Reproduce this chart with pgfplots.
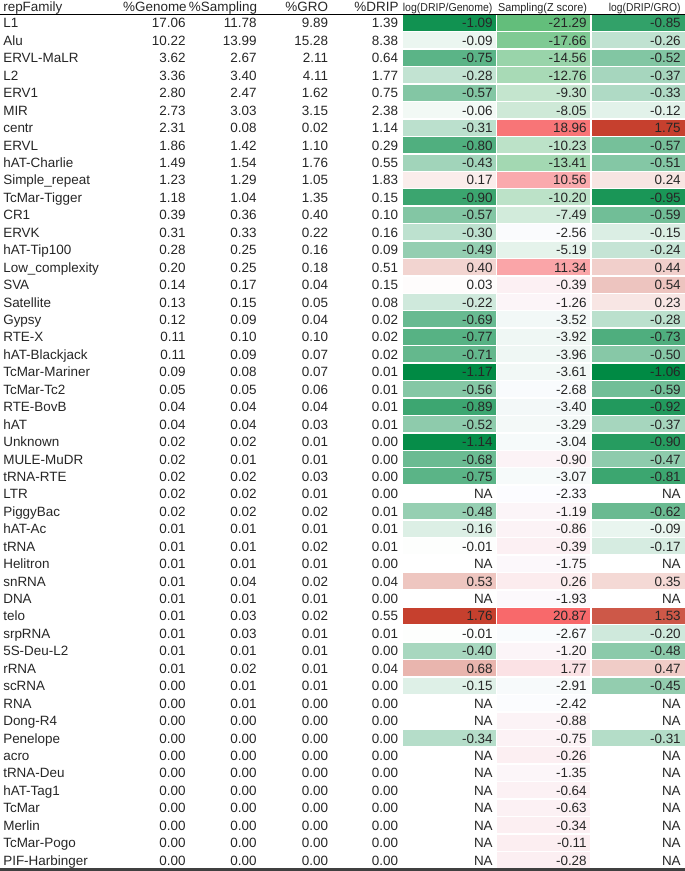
\documentclass[border=0pt]{standalone}
\usepackage{fontspec}
\setmainfont{Liberation Sans}
\usepackage{graphicx}
\usepackage{pgfplots}
\usepackage{pgfplotstable}
\pgfplotsset{compat=1.18}
% all three heat columns share the axis meta range [-21.29, 20.87];
% the log columns use only the part of their colormap around 0
\pgfplotsset{
 colormap={cA}{rgb255(0cm)=(0,138,68); rgb255(20.12cm)=(0,138,68); rgb255(21.29cm)=(255,255,255); rgb255(23.05cm)=(198,64,46); rgb255(42.16cm)=(198,64,46)},
 colormap={cZ}{rgb255(0cm)=(99,190,123); rgb255(18.96cm)=(252,252,255); rgb255(42.16cm)=(248,105,107)},
 colormap={cR}{rgb255(0cm)=(0,138,68); rgb255(20.23cm)=(0,138,68); rgb255(21.29cm)=(255,255,255); rgb255(23.04cm)=(198,64,46); rgb255(42.16cm)=(198,64,46)},
}
\def\nanstr{nan}
% a heat cell; nothing is drawn for an NA value
\pgfdeclareplotmark{cell}{\ifnum\strcmp{\rawv}{nan}=0 \else\pgfpathrectangle{\pgfpoint{-46.4bp}{-8bp}}{\pgfpoint{92.8bp}{16bp}}\pgfusepathqfill\fi}
\newcommand\nafmt[1]{\edef\tmpv{#1}\ifx\tmpv\nanstr NA\else\tmpv\fi}
\pgfplotsset{
 txt/.style={draw=none, mark=none, nodes near coords, point meta=explicit symbolic,
   nodes near coords style={anchor=#1, inner sep=0pt, outer sep=0pt,
   font=\fontsize{13.5}{14}\selectfont, text=black!85}},
 % rows whose log ratios are NA
 skipna/.style={skip coords between index={27}{28}, skip coords between index={31}{32},
   skip coords between index={33}{34}, skip coords between index={39}{41},
   skip coords between index={42}{49}},
}
\begin{document}
\catcode`\_=12
\pgfplotstableread{
fam G S GRO DRIP lg zs lgro
L1 17.06 11.78 9.89 1.39 -1.09 -21.29 -0.85
Alu 10.22 13.99 15.28 8.38 -0.09 -17.66 -0.26
ERVL-MaLR 3.62 2.67 2.11 0.64 -0.75 -14.56 -0.52
L2 3.36 3.40 4.11 1.77 -0.28 -12.76 -0.37
ERV1 2.80 2.47 1.62 0.75 -0.57 -9.30 -0.33
MIR 2.73 3.03 3.15 2.38 -0.06 -8.05 -0.12
centr 2.31 0.08 0.02 1.14 -0.31 18.96 1.75
ERVL 1.86 1.42 1.10 0.29 -0.80 -10.23 -0.57
hAT-Charlie 1.49 1.54 1.76 0.55 -0.43 -13.41 -0.51
Simple_repeat 1.23 1.29 1.05 1.83 0.17 10.56 0.24
TcMar-Tigger 1.18 1.04 1.35 0.15 -0.90 -10.20 -0.95
CR1 0.39 0.36 0.40 0.10 -0.57 -7.49 -0.59
ERVK 0.31 0.33 0.22 0.16 -0.30 -2.56 -0.15
hAT-Tip100 0.28 0.25 0.16 0.09 -0.49 -5.19 -0.24
Low_complexity 0.20 0.25 0.18 0.51 0.40 11.34 0.44
SVA 0.14 0.17 0.04 0.15 0.03 -0.39 0.54
Satellite 0.13 0.15 0.05 0.08 -0.22 -1.26 0.23
Gypsy 0.12 0.09 0.04 0.02 -0.69 -3.52 -0.28
RTE-X 0.11 0.10 0.10 0.02 -0.77 -3.92 -0.73
hAT-Blackjack 0.11 0.09 0.07 0.02 -0.71 -3.96 -0.50
TcMar-Mariner 0.09 0.08 0.07 0.01 -1.17 -3.61 -1.06
TcMar-Tc2 0.05 0.05 0.06 0.01 -0.56 -2.68 -0.59
RTE-BovB 0.04 0.04 0.04 0.01 -0.89 -3.40 -0.92
hAT 0.04 0.04 0.03 0.01 -0.52 -3.29 -0.37
Unknown 0.02 0.02 0.01 0.00 -1.14 -3.04 -0.90
MULE-MuDR 0.02 0.01 0.01 0.00 -0.68 -0.90 -0.47
tRNA-RTE 0.02 0.02 0.03 0.00 -0.75 -3.07 -0.81
LTR 0.02 0.02 0.01 0.00 nan -2.33 nan
PiggyBac 0.02 0.02 0.02 0.01 -0.48 -1.19 -0.62
hAT-Ac 0.01 0.01 0.01 0.01 -0.16 -0.86 -0.09
tRNA 0.01 0.01 0.02 0.01 -0.01 -0.39 -0.17
Helitron 0.01 0.01 0.01 0.00 nan -1.75 nan
snRNA 0.01 0.04 0.02 0.04 0.53 0.26 0.35
DNA 0.01 0.01 0.01 0.00 nan -1.93 nan
telo 0.01 0.03 0.02 0.55 1.76 20.87 1.53
srpRNA 0.01 0.03 0.01 0.01 -0.01 -2.67 -0.20
5S-Deu-L2 0.01 0.01 0.01 0.00 -0.40 -1.20 -0.48
rRNA 0.01 0.02 0.01 0.04 0.68 1.77 0.47
scRNA 0.00 0.01 0.01 0.00 -0.15 -2.91 -0.45
RNA 0.00 0.01 0.00 0.00 nan -2.42 nan
Dong-R4 0.00 0.00 0.00 0.00 nan -0.88 nan
Penelope 0.00 0.00 0.00 0.00 -0.34 -0.75 -0.31
acro 0.00 0.00 0.00 0.00 nan -0.26 nan
tRNA-Deu 0.00 0.00 0.00 0.00 nan -1.35 nan
hAT-Tag1 0.00 0.00 0.00 0.00 nan -0.64 nan
TcMar 0.00 0.00 0.00 0.00 nan -0.63 nan
Merlin 0.00 0.00 0.00 0.00 nan -0.34 nan
TcMar-Pogo 0.00 0.00 0.00 0.00 nan -0.11 nan
PIF-Harbinger 0.00 0.00 0.00 0.00 nan -0.28 nan
}\data
\begin{tikzpicture}
\begin{axis}[hide axis, scale only axis, width=685bp, height=871bp,
  xmin=0, xmax=685, ymin=0, ymax=871, y dir=reverse, clip=false,
  point meta min=-21.29, point meta max=20.87]
% heat cells
\addplot[scatter, only marks, mark=cell, point meta=explicit, colormap name=cA, skipna,
  visualization depends on={value \thisrow{lg} \as \rawv}]
  table[x expr=449.7, y expr={23+17.44*\coordindex}, meta=lg]{\data};
\addplot[scatter, only marks, mark=cell, point meta=explicit, colormap name=cZ,
  visualization depends on={value \thisrow{zs} \as \rawv}]
  table[x expr=543.7, y expr={23+17.44*\coordindex}, meta=zs]{\data};
\addplot[scatter, only marks, mark=cell, point meta=explicit, colormap name=cR, skipna,
  visualization depends on={value \thisrow{lgro} \as \rawv}]
  table[x expr=638.6, y expr={23+17.44*\coordindex}, meta=lgro]{\data};
% text columns
\addplot[txt={base west}] table[x expr=3.3, y expr={28+17.44*\coordindex}, meta=fam]{\data};
\addplot[txt={base east}] table[x expr=185.5, y expr={28+17.44*\coordindex}, meta=G]{\data};
\addplot[txt={base east}] table[x expr=256.5, y expr={28+17.44*\coordindex}, meta=S]{\data};
\addplot[txt={base east}] table[x expr=328, y expr={28+17.44*\coordindex}, meta=GRO]{\data};
\addplot[txt={base east}] table[x expr=398, y expr={28+17.44*\coordindex}, meta=DRIP]{\data};
\addplot[txt={base east}, nodes near coords={\nafmt{\pgfplotspointmeta}}] table[x expr=492.7, y expr={28+17.44*\coordindex}, meta=lg]{\data};
\addplot[txt={base east}, nodes near coords={\nafmt{\pgfplotspointmeta}}] table[x expr=586.7, y expr={28+17.44*\coordindex}, meta=zs]{\data};
\addplot[txt={base east}, nodes near coords={\nafmt{\pgfplotspointmeta}}] table[x expr=680.7, y expr={28+17.44*\coordindex}, meta=lgro]{\data};
% headers
\begin{scope}[every node/.style={inner sep=0pt, outer sep=0pt, font=\fontsize{13.5}{14}\selectfont, text=black!85}]
\node[anchor=base west] at (axis cs:3.3,11.3) {repFamily};
\node[anchor=base east] at (axis cs:186.7,11.3) {\%Genome};
\node[anchor=base east] at (axis cs:257,11.3) {\%Sampling};
\node[anchor=base east] at (axis cs:328,11.3) {\%GRO};
\node[anchor=base east] at (axis cs:398.5,11.3) {\%DRIP};
\end{scope}
\begin{scope}[every node/.style={inner sep=0pt, outer sep=0pt, font=\fontsize{11.5}{12}\selectfont, text=black!85}]
\node[anchor=base] at (axis cs:447.7,11.3) {\scalebox{0.92}[1]{log(DRIP/Genome)}};
\node[anchor=base] at (axis cs:542.5,11.3) {\scalebox{0.95}[1]{Sampling(Z score)}};
\node[anchor=base east] at (axis cs:680.5,11.3) {\scalebox{0.9}[1]{log(DRIP/GRO)}};
\end{scope}
\draw[line width=1.2bp, black] (axis cs:0,14.6) -- (axis cs:685,14.6);
\draw[line width=2.4bp, black!75] (axis cs:0,869.5) -- (axis cs:685,869.5);
\end{axis}
\pgfresetboundingbox
\path (current axis.south west) rectangle (current axis.north east);
\end{tikzpicture}
\end{document}
